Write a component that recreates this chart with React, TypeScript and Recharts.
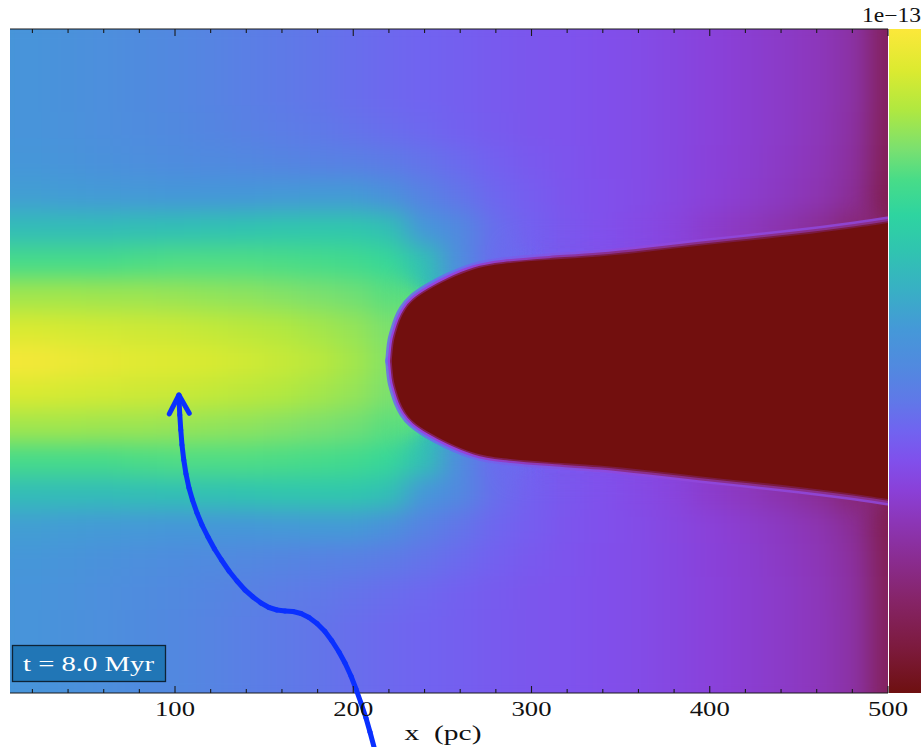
import React from "react";
import { Area, Bar, BarChart, ComposedChart, ReferenceLine, Scatter, XAxis, YAxis } from "recharts";

// grid of the density map (upper half, mirrored about y = 0), values in 1e-13
const gridX = [0, 20, 40, 60, 80, 100, 120, 140, 160, 180, 200, 220, 240, 260, 280, 300, 320, 340, 360, 380, 400, 420, 440, 460, 480, 500];
const gridY = [0, 25, 50, 75, 100, 125, 150, 175, 200, 225, 250];

const n = null;
const rowY0 = [4.82, 4.8, 4.74, 4.68, 4.63, 4.6, 4.55, 4.5, 4.43, 4.35, 4.22, 4.05, n, n, n, n, n, n, n, n, n, n, n, n, n, n];
const rowY25 = [4.55, 4.55, 4.52, 4.5, 4.47, 4.45, 4.4, 4.35, 4.3, 4.22, 4.14, 4.0, n, n, n, n, n, n, n, n, n, n, n, n, n, n];
const rowY50 = [4.2, 4.2, 4.2, 4.18, 4.17, 4.15, 4.12, 4.1, 4.05, 4.0, 3.95, 3.85, n, n, n, n, n, n, n, n, n, n, n, n, n, n];
const rowY75 = [3.75, 3.75, 3.75, 3.75, 3.78, 3.8, 3.8, 3.8, 3.78, 3.75, 3.7, 3.6, 3.2, 2.45, 2.0, n, n, n, n, n, n, n, n, n, n, n];
const rowY100 = [3.15, 3.15, 3.15, 3.15, 3.18, 3.2, 3.22, 3.25, 3.28, 3.3, 3.3, 3.2, 2.65, 2.4, 2.05, 1.9, 1.8, 1.72, 1.64, 1.55, 1.42, 1.32, 1.2, 1.05, 0.8, n];
const rowY125 = [2.75, 2.74, 2.72, 2.7, 2.68, 2.66, 2.66, 2.66, 2.68, 2.7, 2.7, 2.55, 2.3, 2.12, 1.96, 1.86, 1.78, 1.72, 1.66, 1.59, 1.51, 1.43, 1.34, 1.24, 1.05, 0.5];
const rowY150 = [2.66, 2.64, 2.6, 2.55, 2.5, 2.46, 2.42, 2.38, 2.34, 2.3, 2.27, 2.2, 2.1, 2.0, 1.9, 1.82, 1.76, 1.71, 1.66, 1.6, 1.52, 1.45, 1.37, 1.28, 1.1, 0.55];
const rowY175 = [2.62, 2.6, 2.56, 2.5, 2.45, 2.4, 2.34, 2.28, 2.22, 2.16, 2.1, 2.03, 1.97, 1.9, 1.84, 1.79, 1.75, 1.71, 1.66, 1.6, 1.53, 1.46, 1.39, 1.3, 1.13, 0.58];
const rowY200 = [2.62, 2.6, 2.55, 2.5, 2.44, 2.38, 2.32, 2.25, 2.18, 2.12, 2.05, 1.98, 1.93, 1.88, 1.83, 1.79, 1.75, 1.71, 1.66, 1.6, 1.53, 1.46, 1.39, 1.31, 1.15, 0.6];
const rowY225 = [2.62, 2.6, 2.55, 2.5, 2.44, 2.38, 2.32, 2.25, 2.18, 2.12, 2.05, 1.98, 1.93, 1.88, 1.83, 1.79, 1.75, 1.71, 1.66, 1.6, 1.53, 1.46, 1.39, 1.31, 1.15, 0.6];
const rowY250 = [2.62, 2.6, 2.55, 2.5, 2.44, 2.38, 2.32, 2.25, 2.18, 2.12, 2.05, 1.98, 1.93, 1.88, 1.83, 1.79, 1.75, 1.71, 1.66, 1.6, 1.53, 1.46, 1.39, 1.31, 1.15, 0.6];
const heatRows = [rowY0, rowY25, rowY50, rowY75, rowY100, rowY125, rowY150, rowY175, rowY200, rowY225, rowY250];

// the dense (lowest value) region: half width vs x
const shapeX = [221.6, 222.1, 222.7, 224.4, 226.1, 228.9, 233.3, 241.7, 252.9, 268, 282, 310, 338, 366, 394, 422, 450, 478, 500];
const shapeHalf = [0, 8.3, 15.8, 23.3, 30.8, 38.3, 45.9, 53.4, 61.5, 70, 73.3, 76.3, 78.4, 82.5, 86.8, 90.7, 94.7, 99.5, 104];

// hand drawn arrow, in data units
const arrowX = [102.24, 102.69, 103.25, 103.92, 104.93, 106.17, 107.85, 109.81, 112.34, 115.14, 118.51, 122.16, 126.08, 130.29, 134.78, 139.27, 143.76, 148.24, 152.73, 157.22, 161.71, 166.2, 170.68, 175.17, 179.66, 184.15, 188.08, 192.0, 195.37, 198.73, 201.54, 204.34, 207.15, 209.39, 211.64];
const arrowY = [-29.37, -40.66, -51.96, -63.25, -74.55, -85.09, -95.63, -104.67, -114.46, -123.49, -132.53, -141.57, -149.85, -158.13, -165.66, -172.44, -177.71, -182.23, -185.62, -187.5, -188.25, -188.63, -190.13, -193.15, -197.67, -203.69, -210.84, -219.13, -227.41, -237.2, -246.99, -257.53, -268.83, -279.37, -290.66];
const arrowHeadX = [96.8, 102.2, 108.0];
const arrowHeadY = [-39.9, -25.6, -39.4];

const xMajorTicks = [100, 200, 300, 400, 500];
const xTicks = [20, 40, 60, 80, 100, 120, 140, 160, 180, 200, 220, 240, 260, 280, 300, 320, 340, 360, 380, 400, 420, 440, 460, 480, 500];
const yMajorTicks = [-200, -100, 0, 100, 200];
const yTicks = [-240, -220, -200, -180, -160, -140, -120, -100, -80, -60, -40, -20, 0, 20, 40, 60, 80, 100, 120, 140, 160, 180, 200, 220, 240];
const cbarTicks = [1, 2, 3, 4];

// colormap (value in 1e-13 -> colour)
const cmapValues = [0.02, 0.34, 0.7, 0.99, 1.28, 1.5, 1.72, 1.94, 2.15, 2.38, 2.67, 2.97, 3.25, 3.51, 3.77, 3.99, 4.28, 4.57, 4.87];
const cmapColors = ["#6e1010", "#7c1a3c", "#862468", "#8a2c90", "#8c36b8", "#8a40d8", "#8050ec", "#7064f0", "#6078e8", "#5288e0", "#4598d8", "#38b0c4", "#30c4b0", "#2ed4a0", "#48dc88", "#7ae070", "#b0e840", "#dcea30", "#fce83a"];

const X_MIN = 7.43;
const X_MAX = 500;
const Y_MIN = -250;
const Y_MAX = 250;
const CHART_W = 923;
const CHART_H = 747;
const MARGIN = { top: 29, right: 35, bottom: 0, left: 10 };
const X_AXIS_H = 54;
const PLOT_W = CHART_W - MARGIN.left - MARGIN.right;
const PLOT_H = CHART_H - MARGIN.top - X_AXIS_H;
const CELL_W = ((gridX[1] - gridX[0]) * PLOT_W) / (X_MAX - X_MIN) + 1;
const CELL_H = ((gridY[1] - gridY[0]) * PLOT_H) / (Y_MAX - Y_MIN) + 1;
const AXIS = "#1a1a1a";
const SERIF = "'Liberation Serif', 'DejaVu Serif', serif";
const ARROW = "#0a30ff";

function hexToRgb(h: string) {
  return [parseInt(h.slice(1, 3), 16), parseInt(h.slice(3, 5), 16), parseInt(h.slice(5, 7), 16)];
}

function heatColor(v: number) {
  const vs = cmapValues;
  if (v <= vs[0]) return cmapColors[0];
  if (v >= vs[vs.length - 1]) return cmapColors[vs.length - 1];
  let i = 0;
  while (v > vs[i + 1]) i++;
  const t = (v - vs[i]) / (vs[i + 1] - vs[i]);
  const a = hexToRgb(cmapColors[i]);
  const b = hexToRgb(cmapColors[i + 1]);
  const c = a.map((ch, k) => Math.round(ch + (b[k] - ch) * t));
  return `rgb(${c[0]},${c[1]},${c[2]})`;
}

const heatData: { x: number; y: number; v: number }[] = [];
heatRows.forEach((row, j) => {
  row.forEach((v, i) => {
    if (v === null) return;
    heatData.push({ x: gridX[i], y: gridY[j], v });
    if (gridY[j] !== 0) heatData.push({ x: gridX[i], y: -gridY[j], v });
  });
});

const shapeData = shapeX.map((x, i) => ({ x, range: [-shapeHalf[i], shapeHalf[i]] }));

const cbarData = [{ name: "cbar", span: [cmapValues[0], cmapValues[cmapValues.length - 1]] }];

function HeatCell(p: any) {
  return <rect x={p.cx - CELL_W / 2} y={p.cy - CELL_H / 2} width={CELL_W} height={CELL_H} fill={heatColor(p.payload.v)} />;
}

function XTick(p: any) {
  const v = p.payload.value;
  const major = xMajorTicks.includes(v);
  const len = major ? 7 : 4;
  const top = p.y - PLOT_H;
  return (
    <g>
      <line x1={p.x} y1={p.y} x2={p.x} y2={p.y - len} stroke={AXIS} strokeWidth={1.1} />
      <line x1={p.x} y1={top} x2={p.x} y2={top + len} stroke={AXIS} strokeWidth={1.1} />
      {major && (
        <text x={p.x} y={p.y + 23} textAnchor="middle" fontFamily={SERIF} fontSize={20} fill="#111" textLength={40} lengthAdjust="spacingAndGlyphs">
          {v}
        </text>
      )}
    </g>
  );
}

function YTick(p: any) {
  const len = yMajorTicks.includes(p.payload.value) ? 7 : 4;
  return <line x1={p.x} y1={p.y} x2={p.x - len} y2={p.y} stroke={AXIS} strokeWidth={1.1} />;
}

function CbarTick(p: any) {
  return <line x1={p.x} y1={p.y} x2={p.x - 5} y2={p.y} stroke={AXIS} strokeWidth={1.1} />;
}

const shapeCommon = {
  data: shapeData,
  dataKey: "range",
  type: "basis" as const,
  dot: false,
  activeDot: false,
  isAnimationActive: false,
  strokeLinecap: "round" as const,
};

function RingGradient({ id, from, to }: { id: string; from: string; to: string }) {
  return (
    <linearGradient id={id} x1="0" y1="0" x2="1" y2="0">
      <stop offset="0" stopColor={from} />
      <stop offset="0.12" stopColor={from} />
      <stop offset="0.45" stopColor={to} />
      <stop offset="1" stopColor={to} />
    </linearGradient>
  );
}

export default function App() {
  const v0 = cmapValues[0];
  const v1 = cmapValues[cmapValues.length - 1];
  return (
    <div style={{ position: "absolute", left: 0, top: 0, width: CHART_W, height: CHART_H, background: "#fff" }}>
      <style>{`.recharts-scatter { filter: url(#heatBlur); }`}</style>
      <svg width={0} height={0} style={{ position: "absolute" }}>
        <defs>
          <filter
            id="heatBlur"
            filterUnits="userSpaceOnUse"
            x={MARGIN.left}
            y={MARGIN.top}
            width={PLOT_W}
            height={PLOT_H}
            colorInterpolationFilters="sRGB"
          >
            <feGaussianBlur stdDeviation="13 11" />
            <feComponentTransfer>
              <feFuncA type="linear" slope={40} intercept={0} />
            </feComponentTransfer>
          </filter>
          <linearGradient id="cbarGrad" x1="0" y1="1" x2="0" y2="0">
            {cmapValues.map((v, i) => (
              <stop key={i} offset={(v - v0) / (v1 - v0)} stopColor={cmapColors[i]} />
            ))}
          </linearGradient>
          <RingGradient id="ringOuter" from="#6a6af0" to="#9048dc" />
          <RingGradient id="ringMid" from="#9444e0" to="#8a2e8c" />
          <RingGradient id="ringInner" from="#84205a" to="#7a1a40" />
        </defs>
      </svg>

      <div style={{ position: "absolute", left: 0, top: 0 }}>
        <ComposedChart width={CHART_W} height={CHART_H} margin={MARGIN}>
          <Scatter data={heatData} dataKey="y" shape={HeatCell} isAnimationActive={false} zIndex={10} legendType="none" />
          <Area {...shapeCommon} stroke="url(#ringOuter)" strokeWidth={13} strokeOpacity={0.85} fill="none" zIndex={100} />
          <Area {...shapeCommon} stroke="url(#ringMid)" strokeWidth={8} fill="none" zIndex={101} />
          <Area {...shapeCommon} stroke="url(#ringInner)" strokeWidth={3.5} fill="none" zIndex={102} />
          <Area {...shapeCommon} stroke="none" fill="#720f0e" fillOpacity={1} zIndex={103} />
          <ReferenceLine y={Y_MAX} stroke={AXIS} strokeWidth={1.2} zIndex={600} />
          <XAxis
            dataKey="x"
            type="number"
            domain={[X_MIN, X_MAX]}
            allowDataOverflow
            ticks={xTicks}
            interval={0}
            height={X_AXIS_H}
            tickSize={0}
            tickMargin={0}
            tickLine={false}
            tick={XTick}
            axisLine={{ stroke: AXIS, strokeWidth: 1.2 }}
            label={{
              content: (lp: any) => (
                <text
                  x={lp.viewBox.x + lp.viewBox.width / 2 - 6}
                  y={lp.viewBox.y + 47}
                  textAnchor="middle"
                  fontFamily={SERIF}
                  fontSize={20}
                  fill="#111"
                  textLength={77}
                  lengthAdjust="spacingAndGlyphs"
                  style={{ whiteSpace: "pre" }}
                >
                  {"x  (pc)"}
                </text>
              ),
            }}
          />
          <YAxis
            dataKey="y"
            type="number"
            orientation="right"
            domain={[Y_MIN, Y_MAX]}
            allowDataOverflow
            ticks={yTicks}
            interval={0}
            width={0}
            tickSize={0}
            tickMargin={0}
            tickLine={false}
            tick={YTick}
            axisLine={{ stroke: AXIS, strokeWidth: 1.5 }}
          />
          {arrowX.slice(1).map((x, i) => (
            <ReferenceLine
              key={`a${i}`}
              segment={[
                { x: arrowX[i], y: arrowY[i] },
                { x, y: arrowY[i + 1] },
              ]}
              stroke={ARROW}
              strokeWidth={5}
              strokeLinecap="round"
              ifOverflow="visible"
              zIndex={1500}
            />
          ))}
          {arrowHeadX.slice(1).map((x, i) => (
            <ReferenceLine
              key={`h${i}`}
              segment={[
                { x: arrowHeadX[i], y: arrowHeadY[i] },
                { x, y: arrowHeadY[i + 1] },
              ]}
              stroke={ARROW}
              strokeWidth={5}
              strokeLinecap="round"
              ifOverflow="visible"
              zIndex={1500}
            />
          ))}
        </ComposedChart>
      </div>

      <div style={{ position: "absolute", left: CHART_W - MARGIN.right, top: 0 }}>
        <BarChart width={35} height={CHART_H} data={cbarData} margin={{ top: MARGIN.top, right: 2, bottom: X_AXIS_H, left: 1 }} barCategoryGap={0} barGap={0}>
          <XAxis dataKey="name" hide />
          <YAxis
            orientation="right"
            type="number"
            domain={[v0, v1]}
            allowDataOverflow
            ticks={cbarTicks}
            interval={0}
            width={0}
            tickSize={0}
            tickMargin={0}
            tickLine={false}
            tick={CbarTick}
            axisLine={false}
          />
          <Bar dataKey="span" fill="url(#cbarGrad)" isAnimationActive={false} />
        </BarChart>
      </div>

      <svg width={CHART_W} height={CHART_H} style={{ position: "absolute", left: 0, top: 0, pointerEvents: "none" }}>
        <rect x={12.5} y={645.5} width={153} height={36} fill="#2176b6" stroke="#0e2336" strokeWidth={1.3} />
        <text x={23} y={671} fill="#ffffff" fontFamily={SERIF} fontSize={20} textLength={131} lengthAdjust="spacingAndGlyphs">
          t = 8.0 Myr
        </text>
        <text x={921} y={22} textAnchor="end" fill="#111" fontFamily={SERIF} fontSize={20} textLength={59} lengthAdjust="spacingAndGlyphs">
          1e−13
        </text>
      </svg>
    </div>
  );
}
